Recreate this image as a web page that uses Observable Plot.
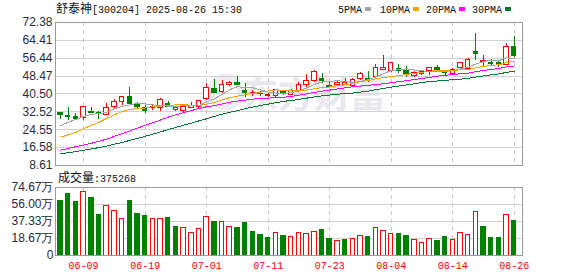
<!DOCTYPE html>
<html><head><meta charset="utf-8">
<script src="https://cdn.jsdelivr.net/npm/d3@7"></script>
<script src="https://cdn.jsdelivr.net/npm/@observablehq/plot@0.6"></script>
<style>
html,body{margin:0;padding:0;background:#fff;}
#wrap{position:relative;width:578px;height:276px;overflow:hidden;background:#fff;}
#wrap > svg{position:absolute;left:0;}
</style></head><body><div id="wrap"></div>
<script>
const stockName = "舒泰神";
const stockCode = "[300204]";
const stamp = "2025-08-26 15:30";
const lastVolume = 375268;
const prevClose = 32.5;

const dates = ["06-04","06-05","06-06","06-09","06-10","06-11","06-12","06-13","06-16","06-17","06-18","06-19","06-20","06-23","06-24","06-25","06-26","06-27","06-30",
"07-01","07-02","07-03","07-04","07-07","07-08","07-09","07-10","07-11","07-14","07-15","07-16","07-17","07-18","07-21","07-22","07-23","07-24","07-25","07-28","07-29","07-30","07-31",
"08-01","08-04","08-05","08-06","08-07","08-08","08-11","08-12","08-13","08-14","08-15","08-18","08-19","08-20","08-21","08-22","08-25","08-26"];
const opens  = [32.24,30.6,30.16,29.86,32.4,31.8,31.35,34.62,36.85,39.3,35.8,34.32,34.03,34.32,36.11,33.58,33.13,34.17,34.92,38.19,42.94,41.31,44.58,45.33,41.61,40.5,40.57,39.6,39.82,41.3,40.27,41.76,44.58,46.22,47.4,44.13,44.58,44.73,44.28,47.11,47.3,48.0,51.42,50.67,51.57,50.82,48.3,49.49,50.67,52.31,50.38,49.49,52.01,51.72,59.44,54.69,54.54,54.39,53.5,61.67];
const highs  = [32.35,34.32,31.65,34.8,34.62,32.69,36.26,38.04,39.4,43.54,36.7,35.2,35.4,38.49,37.15,34.92,35.0,36.85,37.6,45.32,46.96,46.51,46.07,48.3,45.03,42.05,41.6,41.3,42.65,42.05,42.3,45.47,49.19,50.97,49.49,45.47,46.2,47.4,47.4,50.23,50.38,53.65,57.66,54.7,53.5,52.76,50.67,50.97,52.46,53.2,50.97,51.72,54.69,56.18,67.62,57.66,55.73,55.43,62.86,66.13];
const lows   = [29.26,28.67,28.67,28.67,31.65,28.97,30.76,33.73,35.36,35.4,34.0,31.65,33.1,32.84,34.32,32.84,32.09,34.1,33.88,37.59,40.57,40.57,43.84,44.3,39.08,39.53,39.4,39.1,39.08,39.97,39.8,41.3,43.54,45.77,45.03,43.24,44.3,44.3,43.84,46.51,45.77,47.26,51.4,50.23,49.78,48.0,48.0,48.74,48.74,50.23,48.74,49.19,51.72,51.27,55.43,52.46,53.2,52.16,53.05,56.92];
const closes = [31.05,30.3,29.27,34.77,32.2,31.6,34.32,37.0,39.38,36.11,34.9,33.13,34.62,37.89,34.92,34.17,34.92,35.0,37.59,43.24,41.01,44.58,45.47,44.58,40.86,40.75,40.3,40.2,42.35,40.57,42.05,44.58,46.36,50.38,46.07,43.54,45.47,45.4,46.81,49.49,46.8,52.16,52.3,54.39,50.67,49.04,49.78,50.38,52.16,50.97,49.78,51.27,54.24,55.73,58.4,55.28,54.09,53.5,61.67,57.22];
const volumes = [59.3,67.0,58.2,69.9,62.6,45.0,54.5,49.0,40.3,59.3,46.1,43.9,40.3,40.3,41.7,31.8,30.7,24.9,29.6,42.8,37.3,37.0,31.5,30.7,36.2,25.3,22.0,18.7,24.9,20.9,19.8,24.9,23.8,26.0,28.5,17.6,16.1,16.5,18.3,21.6,19.8,30.4,27.1,23.8,23.1,20.9,17.2,13.9,18.3,15.4,19.8,17.2,24.9,22.7,47.9,31.8,18.7,18.7,44.7,37.53];
const ma5  = [26.4,27.9,29.2,30.4,31.52,31.63,32.43,33.98,34.90,35.68,36.34,36.10,35.63,35.33,35.09,34.95,35.30,35.38,35.34,37.00,38.37,40.29,42.38,43.78,43.30,43.25,42.36,41.33,40.89,40.81,41.05,41.93,43.16,44.79,45.89,46.19,46.36,46.17,45.46,46.14,46.79,48.13,49.51,51.03,51.27,51.71,51.24,50.85,50.41,50.47,50.61,50.91,51.68,52.40,53.88,54.98,55.55,55.40,56.59,56.35];
const ma10 = [21.2,22.3,23.4,25.0,26.5,27.9,29.6,31.2,32.6,33.6,33.99,34.27,34.80,35.12,35.39,35.64,35.70,35.51,35.33,36.04,36.65,37.79,38.87,39.54,40.13,40.79,41.33,41.85,42.33,42.07,42.18,42.18,42.26,42.84,43.37,43.63,44.15,44.67,45.12,46.01,46.49,47.25,47.84,48.24,48.70,49.25,49.68,50.18,50.71,50.86,51.16,51.07,51.26,51.40,52.17,52.79,53.23,53.54,54.49,55.12];
const ma20 = [15.5,16.2,17.0,17.7,18.5,19.4,20.4,21.6,22.8,24.0,25.3,26.5,27.7,28.9,30.2,31.2,32.2,33.1,34.0,34.82,35.31,36.03,36.84,37.33,37.76,38.23,38.52,38.68,38.83,39.05,39.41,39.98,40.57,41.19,41.75,42.22,42.75,43.27,43.73,44.05,44.34,44.72,45.05,45.54,46.03,46.44,46.92,47.43,47.92,48.44,48.82,49.16,49.55,49.82,50.44,51.02,51.45,51.86,52.60,52.98];
const ma30 = [13.8,14.3,14.8,15.4,16.0,16.6,17.3,18.1,18.9,19.8,20.7,21.6,22.6,23.6,24.6,25.6,26.6,27.5,28.5,29.5,30.5,31.5,32.3,33.1,33.9,34.7,35.4,36.0,36.6,37.23,37.60,38.08,38.65,39.17,39.63,40.03,40.40,40.68,40.93,41.37,41.77,42.41,42.99,43.54,44.07,44.56,45.06,45.57,46.06,46.31,46.61,46.83,47.12,47.49,48.08,48.56,49.02,49.46,50.11,50.66];

const priceTicks = [8.61,16.58,24.55,32.52,40.50,48.47,56.44,64.41,72.38];
const volTicks = [0,18.67,37.33,56.00,74.67];
const labelDates = ["06-09","06-19","07-01","07-11","07-23","08-04","08-14","08-26"];
const maNames = ["5PMA","10PMA","20PMA","30PMA"];
const maColors = ["#a4a4a4","#f4a300","#ff00ff","#007a33"];

const N = dates.length;
const rows = dates.map((d,i)=>({i, date:d, open:opens[i], high:highs[i], low:lows[i], close:closes[i],
  vol:volumes[i], ma5:ma5[i], ma10:ma10[i], ma20:ma20[i], ma30:ma30[i],
  volUp: closes[i] >= (i ? closes[i-1] : prevClose)}));
const tickIdx = labelDates.map(d=>dates.indexOf(d));

const UP = "#ff0000", DN = "#008000";
const cColor = d => d.close >= d.open ? UP : DN;
const xOpt = {domain:[-0.5, N-0.5], range:[56.2, 517.6], axis:null};
const numFont = "Liberation Sans, Arial, sans-serif";
const monoFont = "Liberation Mono, DejaVu Sans Mono, monospace";
const cjkFont = "Noto Sans CJK SC, sans-serif";

const wrap = document.getElementById("wrap");

// watermark layer
const wm = d3.create("svg").attr("width",578).attr("height",276).style("top","0px");
wm.append("text").attr("x",314).attr("y",108).attr("text-anchor","middle")
  .attr("font-family",cjkFont).attr("font-weight","bold").attr("font-size",36)
  .attr("fill","#e8e8ee").text("东方财富");
wm.append("circle").attr("cx",226).attr("cy",92).attr("r",15).attr("fill","none")
  .attr("stroke","#ececf1").attr("stroke-width",7);
wrap.appendChild(wm.node());

const topChart = Plot.plot({
  width:578, height:170, marginLeft:55, marginRight:56, marginTop:22, marginBottom:5,
  style:{background:"transparent", overflow:"visible"},
  x: xOpt,
  y:{domain:[priceTicks[0], priceTicks[priceTicks.length-1]], axis:null},
  color:{type:"identity"},
  marks:[
    Plot.ruleY(priceTicks.slice(1,-1), {stroke:"#d2d2d2", strokeOpacity:1, shapeRendering:"crispEdges"}),
    Plot.ruleX(tickIdx, {stroke:"#c8c8c8", strokeOpacity:1, strokeDasharray:"4,4", shapeRendering:"crispEdges"}),
    Plot.ruleX(rows, {x:"i", y1:"low", y2:"high", stroke:cColor, strokeOpacity:1, shapeRendering:"crispEdges"}),
    Plot.rect(rows, {x1:d=>d.i-0.29, x2:d=>d.i+0.29, y1:"open", y2:"close",
      fill:d=>d.close>=d.open?"#ffffff":DN, stroke:cColor, shapeRendering:"crispEdges"}),
    Plot.line(rows, {x:"i", y:"ma5", stroke:maColors[0], strokeWidth:1, shapeRendering:"crispEdges"}),
    Plot.line(rows, {x:"i", y:"ma10", stroke:maColors[1], strokeWidth:1, shapeRendering:"crispEdges"}),
    Plot.line(rows, {x:"i", y:"ma20", stroke:maColors[2], strokeWidth:1, shapeRendering:"crispEdges"}),
    Plot.line(rows, {x:"i", y:"ma30", stroke:maColors[3], strokeWidth:1, shapeRendering:"crispEdges"}),
    Plot.frame({stroke:"#9a9a9a", strokeOpacity:1, shapeRendering:"crispEdges"}),
    Plot.axisY(priceTicks, {anchor:"left", tickSize:0, tickPadding:3, tickFormat:d=>d.toFixed(2),
      fontSize:12, fontFamily:numFont, fill:"#2a2a3a", label:null})
  ]
});
topChart.style.top = "0px";
wrap.appendChild(topChart);

const volChart = Plot.plot({
  width:578, height:106, marginLeft:55, marginRight:56, marginTop:17, marginBottom:21,
  style:{background:"transparent", overflow:"visible"},
  x: xOpt,
  y:{domain:[0, volTicks[volTicks.length-1]], axis:null},
  color:{type:"identity"},
  marks:[
    Plot.ruleY(volTicks.slice(1,-1), {stroke:"#d2d2d2", strokeOpacity:1, shapeRendering:"crispEdges"}),
    Plot.ruleX(tickIdx, {stroke:"#c8c8c8", strokeOpacity:1, strokeDasharray:"4,4", shapeRendering:"crispEdges"}),
    Plot.rect(rows, {x1:d=>d.i-0.29, x2:d=>d.i+0.29, y1:0, y2:"vol",
      fill:d=>d.volUp?"#ffffff":DN, stroke:d=>d.volUp?UP:DN, shapeRendering:"crispEdges"}),
    Plot.frame({stroke:"#9a9a9a", strokeOpacity:1, shapeRendering:"crispEdges"}),
    Plot.axisY(volTicks, {anchor:"left", tickSize:0, tickPadding:2, tickFormat:d=>d===0?"0":d.toFixed(2)+"万",
      fontSize:12, fontFamily:numFont, fill:"#2a2a3a", label:null}),
    Plot.axisX(tickIdx, {anchor:"bottom", tickSize:0, tickPadding:6, tickFormat:i=>dates[i],
      fontSize:10, fontFamily:monoFont, fill:"#ff0000", label:null})
  ]
});
volChart.style.top = "170px";
wrap.appendChild(volChart);

// text overlay: title, legend, volume caption
const ov = d3.create("svg").attr("width",578).attr("height",276).style("top","0px");
wrap.appendChild(ov.node());
const t = ov.append("text").attr("x",56).attr("y",13).attr("fill","#111");
t.append("tspan").attr("font-family",cjkFont).attr("font-size",12).text(stockName);
t.append("tspan").attr("font-family",monoFont).attr("font-size",10).text(stockCode+" "+stamp);
const legX = [338,380,426,472];
const legSq = [365,413,459,505];
maNames.forEach((n,k)=>{
  ov.append("text").attr("x",legX[k]).attr("y",13).attr("font-family",monoFont)
    .attr("font-size",10).attr("fill","#111").text(n);
  ov.append("rect").attr("x",legSq[k]).attr("y",7).attr("width",6).attr("height",4).attr("fill",maColors[k]);
});
const vt = ov.append("text").attr("x",58).attr("y",182).attr("fill","#111");
vt.append("tspan").attr("font-family",cjkFont).attr("font-size",12).text("成交量");
vt.append("tspan").attr("font-family",monoFont).attr("font-size",10).text(":"+lastVolume);
</script></body></html>
